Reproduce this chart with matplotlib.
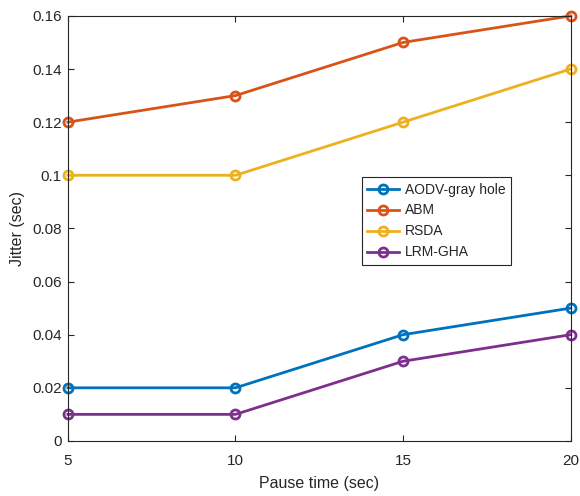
import numpy as np
import matplotlib
matplotlib.use('Agg')
import matplotlib.pyplot as plt

plt.rcParams['font.family'] = ['Liberation Sans', 'DejaVu Sans']

pause_time = [5, 10, 15, 20]
aodv_gray_hole = [0.02, 0.02, 0.04, 0.05]
abm = [0.12, 0.13, 0.15, 0.16]
rsda = [0.10, 0.10, 0.12, 0.14]
lrm_gha = [0.01, 0.01, 0.03, 0.04]

series = [
    ('AODV-gray hole', aodv_gray_hole, '#0072BD'),
    ('ABM', abm, '#D95319'),
    ('RSDA', rsda, '#EDB120'),
    ('LRM-GHA', lrm_gha, '#7E2F8E'),
]

fig = plt.figure(figsize=(5.8, 4.96), dpi=100)
ax = fig.add_axes([0.117, 0.111, 0.867, 0.857])

for name, vals, col in series:
    ax.plot(pause_time, vals, '-o', color=col, lw=2.0, markersize=6.5,
            markerfacecolor='none', markeredgewidth=2.0, label=name, clip_on=False)

ax.set_xlim(5, 20)
ax.set_ylim(0, 0.16)
ax.set_xticks([5, 10, 15, 20])
ax.set_yticks(np.arange(0, 0.161, 0.02))
ax.set_yticklabels(['0', '0.02', '0.04', '0.06', '0.08', '0.1', '0.12', '0.14', '0.16'])

txt = '#262626'
ax.tick_params(direction='in', length=4, width=0.8, colors=txt, labelsize=11,
               top=True, right=True)
ax.tick_params(axis='x', pad=9.5)
ax.tick_params(axis='y', pad=4.5)
for s in ax.spines.values():
    s.set_linewidth(0.8)
    s.set_color(txt)

ax.set_xlabel('Pause time (sec)', fontsize=11.5, color=txt, labelpad=6)
ax.set_ylabel('Jitter (sec)', fontsize=11.5, color=txt, labelpad=5)

leg = ax.legend(loc='upper left', bbox_to_anchor=(0.5845, 0.621), fontsize=10,
                frameon=True, fancybox=False, edgecolor=txt, framealpha=1,
                handlelength=2.3, handletextpad=0.43, borderpad=0.4,
                labelspacing=0.5, borderaxespad=0)
leg.get_frame().set_linewidth(0.8)
for t in leg.get_texts():
    t.set_color(txt)

fig.savefig('out.png', dpi=100)
